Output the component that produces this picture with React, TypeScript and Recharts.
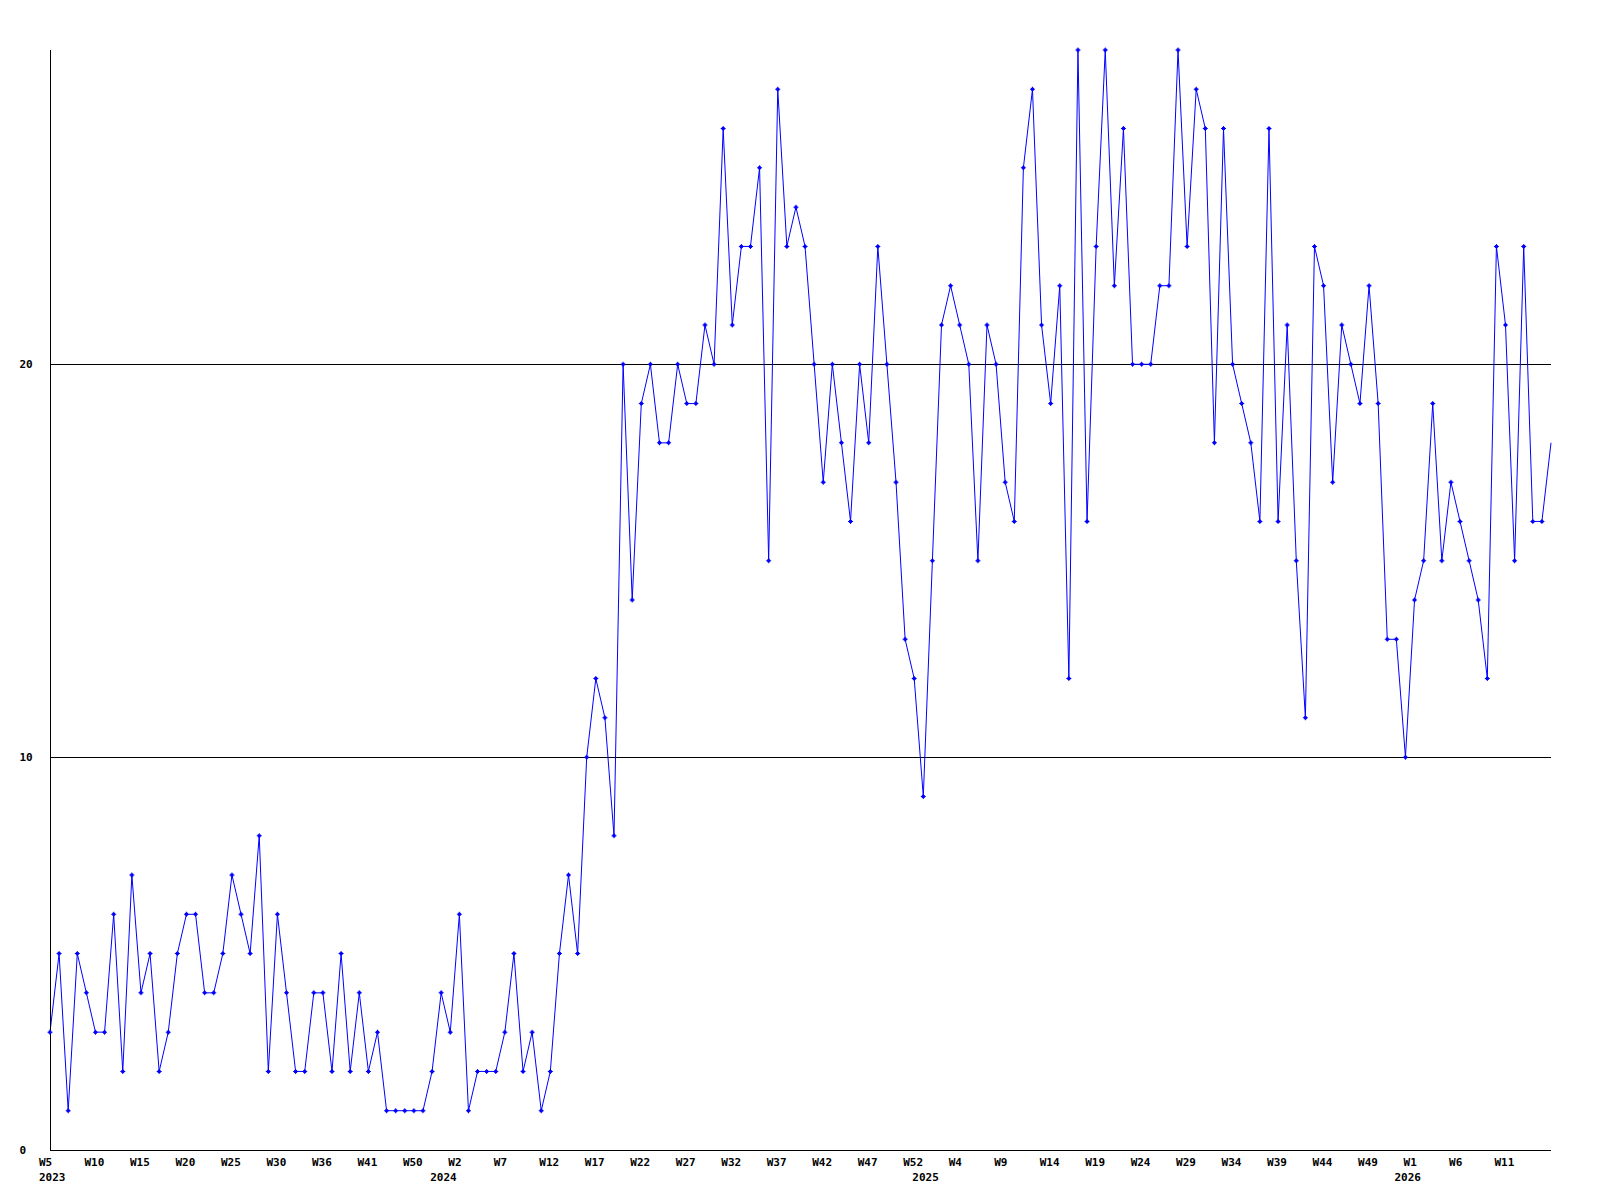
import React from 'react';
import { LineChart, Line, XAxis, YAxis, ReferenceLine } from 'recharts';

// Week numbers present in the data, per year
const weeks2023 = [5, 6, 7, 8, 9, 10, 11, 12, 13, 14, 15, 16, 17, 18, 19, 20, 21, 22, 23, 24, 25, 26, 27, 28, 29, 30, 31, 32, 33, 34, 36, 37, 38, 39, 40, 41, 42, 43, 44, 45, 50, 51, 52];
const weeks2024 = [0, 1, 2, 3, 4, 5, 6, 7, 8, 9, 10, 11, 12, 13, 14, 15, 16, 17, 18, 19, 20, 21, 22, 23, 24, 25, 26, 27, 28, 29, 30, 31, 32, 33, 34, 35, 36, 37, 38, 39, 40, 41, 42, 43, 44, 45, 46, 47, 48, 49, 50, 51, 52];
const weeks2025 = [0, 1, 2, 3, 4, 5, 6, 7, 8, 9, 10, 11, 12, 13, 14, 15, 16, 17, 18, 19, 20, 21, 22, 23, 24, 25, 26, 27, 28, 29, 30, 31, 32, 33, 34, 35, 36, 37, 38, 39, 40, 41, 42, 43, 44, 45, 46, 47, 48, 49, 50, 51, 52];
const weeks2026 = [0, 1, 2, 3, 4, 5, 6, 7, 8, 9, 10, 11, 12, 13, 14, 15, 16];

// Weekly counts
const counts = [
  3, 5, 1, 5, 4, 3, 3, 6, 2, 7, 4, 5, 2, 3, 5, 6, 6, 4, 4, 5,
  7, 6, 5, 8, 2, 6, 4, 2, 2, 4, 4, 2, 5, 2, 4, 2, 3, 1, 1, 1,
  1, 1, 2, 4, 3, 6, 1, 2, 2, 2, 3, 5, 2, 3, 1, 2, 5, 7, 5, 10,
  12, 11, 8, 20, 14, 19, 20, 18, 18, 20, 19, 19, 21, 20, 26, 21, 23, 23, 25, 15,
  27, 23, 24, 23, 20, 17, 20, 18, 16, 20, 18, 23, 20, 17, 13, 12, 9, 15, 21, 22,
  21, 20, 15, 21, 20, 17, 16, 25, 27, 21, 19, 22, 12, 28, 16, 23, 28, 22, 26, 20,
  20, 20, 22, 22, 28, 23, 27, 26, 18, 26, 20, 19, 18, 16, 26, 16, 21, 15, 11, 23,
  22, 17, 21, 20, 19, 22, 19, 13, 13, 10, 14, 15, 19, 15, 17, 16, 15, 14, 12, 23,
  21, 15, 23, 16, 16, 18,
];

const weekTickLabels = [
  '2023-W5', '2023-W10', '2023-W15', '2023-W20', '2023-W25', '2023-W30', '2023-W36', '2023-W41', '2023-W50',
  '2024-W2', '2024-W7', '2024-W12', '2024-W17', '2024-W22', '2024-W27', '2024-W32', '2024-W37', '2024-W42', '2024-W47', '2024-W52',
  '2025-W4', '2025-W9', '2025-W14', '2025-W19', '2025-W24', '2025-W29', '2025-W34', '2025-W39', '2025-W44', '2025-W49',
  '2026-W1', '2026-W6', '2026-W11',
];

const yearLabels: Record<string, string> = {
  '2023-W5': '2023',
  '2024-W0': '2024',
  '2025-W0': '2025',
  '2026-W0': '2026',
};

const yTicks = [0, 10, 20];

const categories = [
  ...weeks2023.map((w) => `2023-W${w}`),
  ...weeks2024.map((w) => `2024-W${w}`),
  ...weeks2025.map((w) => `2025-W${w}`),
  ...weeks2026.map((w) => `2026-W${w}`),
];

const data = categories.map((c, i) => ({ week: c, value: counts[i] }));

const FONT = '"DejaVu Sans Mono", "Liberation Mono", monospace';
const BLUE = '#0000ff';
const tickSet = new Set(weekTickLabels);

const XTick = (props: any) => {
  const { x, payload } = props;
  const key: string = payload.value;
  const wk = key.split('-')[1];
  return (
    <g>
      {tickSet.has(key) && (
        <text x={x - 11} y={1158} fontFamily={FONT} fontSize={11} fontWeight="bold" fill="#000" textAnchor="start">
          {wk}
        </text>
      )}
      {yearLabels[key] && (
        <text x={x - 11} y={1173} fontFamily={FONT} fontSize={11} fontWeight="bold" fill="#000" textAnchor="start">
          {yearLabels[key]}
        </text>
      )}
    </g>
  );
};

const YTick = (props: any) => {
  const { y, payload } = props;
  return (
    <text x={11.5} y={y + 4} fontFamily={FONT} fontSize={11} fontWeight="bold" fill="#000" textAnchor="start">
      {payload.value}
    </text>
  );
};

const Dot = (props: any) => {
  const { cx, cy, index } = props;
  if (index === counts.length - 1 || cx == null || cy == null) return <g key={`d${index}`} />;
  return (
    <path
      key={`d${index}`}
      d={`M${cx - 2.5},${cy - 0.5}h5v1h-5z M${cx - 0.5},${cy - 2.5}h1v5h-1z M${cx - 1.5},${cy - 1.5}h3v3h-3z`}
      fill={BLUE}
    />
  );
};

export default function App() {
  return (
    <div style={{ width: 1560, height: 1192, background: '#fff' }}>
      <LineChart width={1560} height={1192} data={data} margin={{ top: 42, right: 17, bottom: 0, left: 0 }}>
        <XAxis
          dataKey="week"
          interval={0}
          tickLine={false}
          axisLine={{ stroke: '#000', strokeWidth: 1, shapeRendering: 'crispEdges' }}
          tick={<XTick />}
          height={50}
          padding={{ left: 0, right: 0 }}
        />
        <YAxis
          type="number"
          domain={[0, 28]}
          ticks={yTicks}
          interval={0}
          tickLine={false}
          axisLine={{ stroke: '#000', strokeWidth: 1, shapeRendering: 'crispEdges' }}
          tick={<YTick />}
          width={42}
        />
        <ReferenceLine y={10} stroke="#000" strokeWidth={1} shapeRendering="crispEdges" ifOverflow="extendDomain" />
        <ReferenceLine y={20} stroke="#000" strokeWidth={1} shapeRendering="crispEdges" ifOverflow="extendDomain" />
        <Line
          type="linear"
          dataKey="value"
          stroke={BLUE}
          strokeWidth={1}
          dot={<Dot />}
          activeDot={false}
          isAnimationActive={false}
        />
      </LineChart>
    </div>
  );
}
